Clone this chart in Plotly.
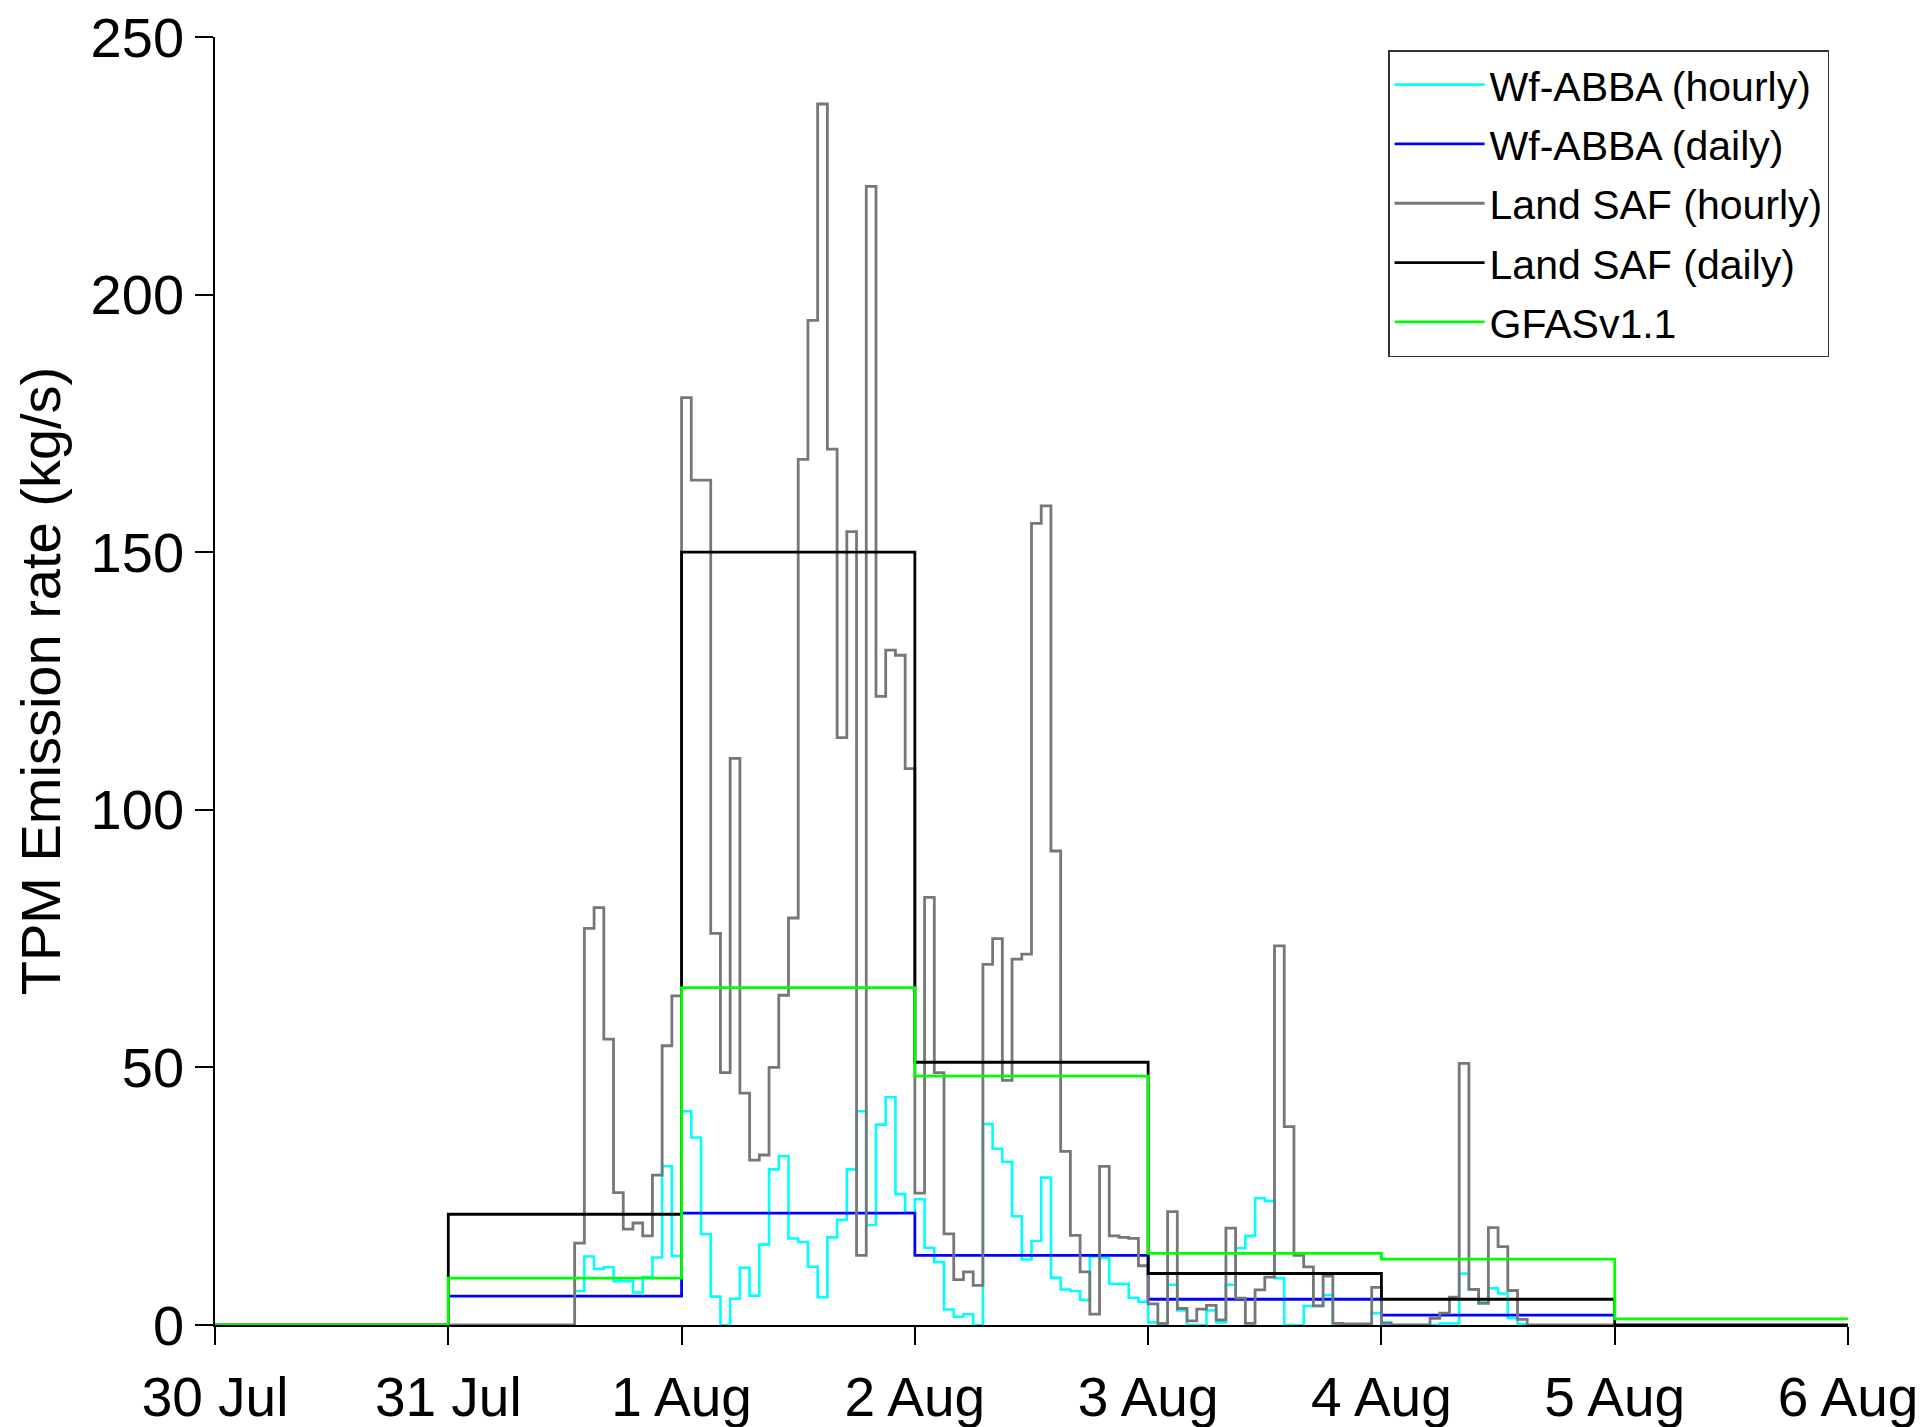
import pandas as pd
import plotly.graph_objects as go

# ---------------- data ----------------
day_labels = ["30 Jul", "31 Jul", "1 Aug", "2 Aug", "3 Aug", "4 Aug", "5 Aug", "6 Aug"]
day_starts = pd.date_range("2012-07-30", periods=8, freq="D")

# daily values (one per day, starting 30 Jul)
landsaf_daily = [0, 21.5, 150.0, 51.0, 10.0, 5.0, 0.0]          # 30 Jul .. 5 Aug
gfas_daily = [0, 9.1, 65.5, 48.3, 13.9, 12.8, 1.2]              # 30 Jul .. 5 Aug
wfabba_daily = [5.6, 21.7, 13.5, 5.0, 1.9]                      # 31 Jul .. 4 Aug

# Land SAF hourly, starting 31 Jul 00h
landsaf_31jul = [0, 0, 0, 0, 0, 0, 0, 0, 0, 0, 0, 0, 0,
                 15.9, 77, 81, 55.5, 25.7, 18.6, 19.8, 17.3, 29.1, 54.2, 63.9]
landsaf_1aug = [180, 164, 164, 76, 49, 110, 45, 32, 33, 50, 64, 79,
                168, 195, 237, 170, 114, 154, 13.5, 221, 122, 131, 130, 108]
landsaf_2aug = [25.6, 83, 49, 17.7, 8.8, 10.3, 7.7, 70, 75, 47.5, 71, 72,
                155.6, 159, 92, 33.7, 17.4, 10.3, 2.1, 30.8, 17.3, 17, 16.8, 11.5]
landsaf_3aug = [4.1, 0.3, 22, 3.2, 0.8, 3.1, 3.8, 1.0, 18.8, 5.2, 0.3, 6.8,
                9.3, 73.6, 38.5, 13.5, 11.3, 3.7, 9.5, 0.3, 0.2, 0.2, 0.2, 7.3]
landsaf_4aug = [0.3, 0, 0, 0, 0, 1.3, 2.3, 5.4, 50.8, 6.9, 4.2, 18.9,
                15.2, 6.7, 1.1, 0, 0, 0, 0, 0, 0, 0, 0, 0]

# Wf-ABBA hourly, starting 31 Jul 13h
wfabba_31jul = [6.6, 13.3, 10.9, 11.2, 8.5, 8.5, 6.3, 9.3, 13.1, 30.8, 13.4]
wfabba_1aug = [41.5, 36.4, 17.6, 5.5, 0, 5.1, 11.1, 5.7, 15.6, 30.2, 32.8, 16.8,
               16.1, 11.3, 5.4, 17.0, 20.4, 30.2, 41.5, 19.4, 38.9, 44.2, 25.4, 21.8]
wfabba_2aug = [24.4, 15.0, 12.2, 3.0, 1.6, 2.1, 0, 39.0, 34.2, 31.7, 21.1, 12.7,
               16.3, 28.6, 9.2, 6.9, 6.6, 4.9, 13.3, 13.0, 8.0, 8.0, 5.3, 4.5]
wfabba_3aug = [0.5, 0, 7.8, 2.8, 0, 0, 2.8, 0.5, 7.8, 14.9, 17.3, 24.6,
               24.1, 9.1, 0, 0, 3.7, 3.7, 5.8, 0.3, 0, 0, 0, 2.3]
wfabba_4aug = [0.5, 0, 0, 0, 0, 0, 0.3, 0.3, 10.0, 6.9, 4.5, 7.1, 6.1, 1.3, 0.2]

# ---------------- build series ----------------
def step_series(start, values, freq):
    """x positions for an 'hv' step line; a closing point repeats the last value."""
    x = list(pd.date_range(start, periods=len(values) + 1, freq=freq))
    y = list(values) + [values[-1]]
    return x, y

landsaf_hourly = landsaf_31jul + landsaf_1aug + landsaf_2aug + landsaf_3aug + landsaf_4aug
wfabba_hourly = wfabba_31jul + wfabba_1aug + wfabba_2aug + wfabba_3aug + wfabba_4aug

x_ls_h, y_ls_h = step_series("2012-07-31 00:00", landsaf_hourly, "h")
x_wf_h, y_wf_h = step_series("2012-07-31 13:00", wfabba_hourly, "h")
x_ls_d, y_ls_d = step_series("2012-07-30", landsaf_daily, "D")
x_gf_d, y_gf_d = step_series("2012-07-30", gfas_daily, "D")
x_wf_d, y_wf_d = step_series("2012-07-31", wfabba_daily, "D")

FONT = "Liberation Sans, Arial, sans-serif"

fig = go.Figure()
traces = [
    ("Wf-ABBA (hourly)", x_wf_h, y_wf_h, "#00FFFF", 2.6),
    ("Wf-ABBA (daily)", x_wf_d, y_wf_d, "#0000FF", 2.8),
    ("Land SAF (hourly)", x_ls_h, y_ls_h, "#777777", 2.8),
    ("Land SAF (daily)", x_ls_d, y_ls_d, "#000000", 2.8),
    ("GFASv1.1", x_gf_d, y_gf_d, "#00FF00", 2.8),
]
for i, (name, x, y, color, w) in enumerate(traces):
    fig.add_trace(go.Scatter(
        x=x, y=y, mode="lines", name=name,
        line=dict(color=color, width=w, shape="hv"),
        legendgroup=f"g{i}",
    ))

fig.update_layout(
    width=1928, height=1427,
    margin=dict(l=215, r=80, t=37, b=102),
    paper_bgcolor="white", plot_bgcolor="white",
    font=dict(family=FONT, color="black", size=55),
    showlegend=True,
    legend=dict(
        x=0.9884, y=0.9899, xanchor="right", yanchor="top",
        font=dict(family=FONT, size=41, color="black"),
        bordercolor="#333333", borderwidth=1.5, bgcolor="white",
        tracegroupgap=3, itemwidth=90,
    ),
    xaxis=dict(
        range=[day_starts[0], day_starts[-1]],
        tickvals=list(day_starts), ticktext=day_labels,
        showgrid=False, zeroline=False, automargin=False,
        showline=True, linecolor="black", linewidth=1.5,
        ticks="outside", ticklen=18, tickwidth=1.5, tickcolor="black",
        tickfont=dict(family=FONT, size=55),
        ticklabelstandoff=5,
    ),
    yaxis=dict(
        range=[0, 250], tickvals=[0, 50, 100, 150, 200, 250],
        showgrid=False, zeroline=False, automargin=False,
        showline=True, linecolor="black", linewidth=1.5,
        ticks="outside", ticklen=18, tickwidth=1.5, tickcolor="black",
        tickfont=dict(family=FONT, size=56),
        ticklabelstandoff=0,
        title=dict(text="TPM Emission rate (kg/s)", font=dict(family=FONT, size=56), standoff=12),
    ),
)

fig.write_html("out.html")
